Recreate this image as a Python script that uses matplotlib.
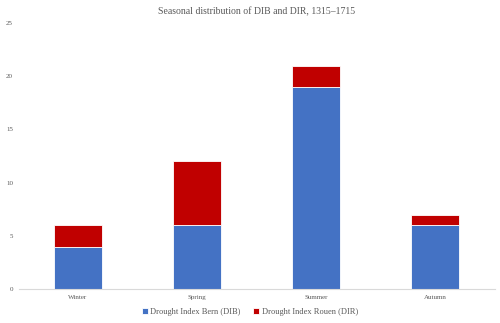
import matplotlib.pyplot as plt
import numpy as np

seasons = ['Winter', 'Spring', 'Summer', 'Autumn']
dib = [4, 6, 19, 6]
dir_vals = [2, 6, 2, 1]
yticks = [0, 5, 10, 15, 20, 25]

plt.rcParams['font.family'] = 'Liberation Serif'
grey = '#595959'

fig = plt.figure(figsize=(5, 3.23), dpi=100)
ax = fig.add_axes([0.037, 0.105, 0.952, 0.824])

x = np.arange(len(seasons))
ax.bar(x, dib, width=0.4, color='#4472C4', edgecolor='white', linewidth=0.6,
       label='Drought Index Bern (DIB)')
ax.bar(x, dir_vals, width=0.4, bottom=dib, color='#C00000', edgecolor='white',
       linewidth=0.6, label='Drought Index Rouen (DIR)')

ax.set_xlim(-0.5, 3.5)
ax.set_ylim(0, 25)
ax.set_yticks(yticks)
ax.set_xticks(x)
ax.set_xticklabels(seasons)
ax.tick_params(axis='both', length=0, labelsize=5, colors=grey, pad=4)
ax.tick_params(axis='y', pad=4)
for s in ['top', 'right', 'left']:
    ax.spines[s].set_visible(False)
ax.spines['bottom'].set_color('#D9D9D9')
ax.spines['bottom'].set_linewidth(0.8)

ax.set_title('Seasonal distribution of DIB and DIR, 1315\u20131715', fontsize=7,
             color=grey, pad=6)
fig.legend(loc='lower center', bbox_to_anchor=(0.5, 0.0), ncol=2, frameon=False,
           fontsize=6, labelcolor=grey, handlelength=0.7, handleheight=0.7,
           handletextpad=0.3, columnspacing=1.5)

fig.savefig('out.png', dpi=100)
